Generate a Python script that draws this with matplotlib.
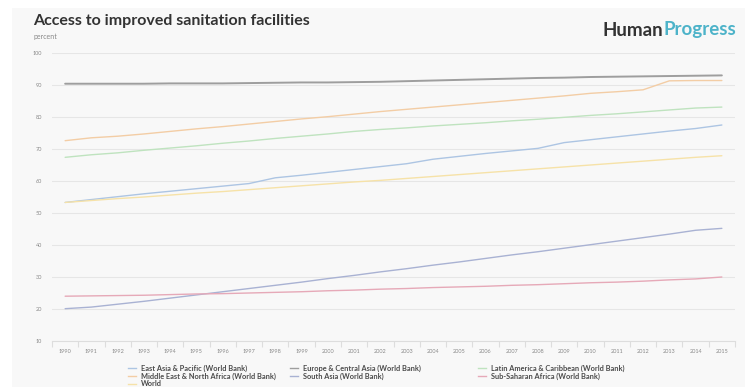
import matplotlib
matplotlib.use("Agg")
import matplotlib.pyplot as plt
from matplotlib.patches import Rectangle
from matplotlib.lines import Line2D

years = list(range(1990, 2016))

east_asia = [53.3, 54.2, 55.1, 56.0, 56.8, 57.6, 58.4, 59.2, 61.0, 61.8, 62.7, 63.6, 64.5,
             65.4, 66.8, 67.7, 68.6, 69.4, 70.2, 72.0, 72.9, 73.8, 74.7, 75.6, 76.4, 77.5]
europe = [90.4, 90.4, 90.4, 90.4, 90.5, 90.5, 90.5, 90.6, 90.7, 90.8, 90.8, 90.9, 91.0,
          91.2, 91.4, 91.6, 91.8, 92.0, 92.2, 92.3, 92.5, 92.6, 92.7, 92.8, 92.9, 93.0]
latin = [67.4, 68.2, 68.8, 69.6, 70.3, 71.0, 71.8, 72.5, 73.3, 74.0, 74.7, 75.5, 76.1,
         76.6, 77.2, 77.7, 78.2, 78.8, 79.3, 79.9, 80.5, 81.0, 81.6, 82.2, 82.8, 83.1]
mena = [72.6, 73.5, 74.0, 74.7, 75.5, 76.3, 77.0, 77.8, 78.6, 79.4, 80.1, 80.9, 81.7,
        82.4, 83.1, 83.8, 84.5, 85.2, 85.9, 86.6, 87.4, 87.9, 88.5, 91.3, 91.4, 91.4]
south_asia = [20.1, 20.6, 21.5, 22.4, 23.4, 24.4, 25.4, 26.4, 27.4, 28.4, 29.5, 30.5, 31.6,
              32.6, 33.7, 34.7, 35.8, 36.9, 37.9, 39.0, 40.1, 41.2, 42.3, 43.4, 44.6, 45.2]
ssa = [24.0, 24.1, 24.2, 24.3, 24.5, 24.7, 24.8, 25.0, 25.2, 25.4, 25.7, 25.9, 26.2,
       26.4, 26.7, 26.9, 27.1, 27.4, 27.6, 27.9, 28.2, 28.4, 28.7, 29.1, 29.4, 30.0]
world = [53.3, 53.9, 54.5, 55.0, 55.6, 56.2, 56.7, 57.3, 57.9, 58.5, 59.1, 59.7, 60.2,
         60.8, 61.4, 62.0, 62.6, 63.2, 63.8, 64.4, 65.0, 65.6, 66.2, 66.8, 67.4, 67.9]

names = ["East Asia & Pacific (World Bank)", "Europe & Central Asia (World Bank)",
         "Latin America & Caribbean (World Bank)", "Middle East & North Africa (World Bank)",
         "South Asia (World Bank)", "Sub-Saharan Africa (World Bank)", "World"]
series = [east_asia, europe, latin, mena, south_asia, ssa, world]
colors = ["#adc5e3", "#9e9e9e", "#bfe3bf", "#f3cda5", "#a9b2d3", "#e6a9b8", "#f6e2a8"]
widths = [1.0, 1.4, 1.0, 1.0, 1.0, 1.0, 1.0]

yticks = list(range(10, 101, 10))

W, H = 745, 387
fig = plt.figure(figsize=(W / 100, H / 100), dpi=100, facecolor="white")
fig.patches.append(Rectangle((12 / W, 0), 1, 1 - 8 / H, transform=fig.transFigure,
                             facecolor="#f8f8f8", edgecolor="none", zorder=-10))

ax = fig.add_axes([52 / W, 1 - 341 / H, (735 - 52) / W, (341 - 53) / H])
ax.set_facecolor("none")
for s, c, lw in zip(series, colors, widths):
    ax.plot(years, s, color=c, lw=lw, solid_capstyle="round")

ax.set_xlim(1989.5, 2015.5)
ax.set_ylim(10, 100)
ax.set_yticks(yticks)
ax.set_yticklabels([str(v) for v in yticks])
ax.set_xticks(years)
ax.set_xticklabels([str(y) for y in years])
ax.set_xticks([y - 0.5 for y in years] + [2015.5], minor=True)
ax.grid(axis="y", color="#e6e6e6", lw=0.8)
ax.set_axisbelow(True)
for sp in ["top", "right", "left"]:
    ax.spines[sp].set_visible(False)
ax.spines["bottom"].set_color("#dddddd")
ax.spines["bottom"].set_linewidth(0.8)
ax.tick_params(axis="y", length=0, pad=7, labelsize=4, labelcolor="#888888")
ax.tick_params(axis="x", which="major", length=0, pad=6, labelsize=4, labelcolor="#888888")
ax.tick_params(axis="x", which="minor", length=4, color="#dddddd", width=0.8)
for lab in ax.get_xticklabels() + ax.get_yticklabels():
    lab.set_fontfamily("Lato")

fig.text(33 / W, 1 - 21 / H, "Access to improved sanitation facilities", fontsize=11.5,
         fontweight="bold", color="#333333", family="Lato", va="center", ha="left")
fig.text(33 / W, 1 - 37 / H, "percent", fontsize=5, color="#888888", family="Lato",
         va="center", ha="left")

t1 = fig.text(603 / W, 1 - 30 / H, "Human", fontsize=13.5, fontweight="bold", color="#333333",
              family="Lato", va="center", ha="left")
t2 = fig.text(0, 1 - 30 / H, "Progress", fontsize=13.5, fontweight="bold", color="#4db3c9",
              family="Lato", va="center", ha="left")
fig.canvas.draw()
bb = t1.get_window_extent()
t2.set_position((bb.x1 / W, 1 - 30 / H))

# legend, row-major layout in three columns
cols_x = [128, 290, 478]
rows_y = [368, 376, 384]
for i, (n, c) in enumerate(zip(names, colors)):
    r, col = divmod(i, 3)
    x0 = cols_x[col]
    y0 = rows_y[r]
    fig.lines.append(Line2D([x0 / W, (x0 + 8) / W], [1 - y0 / H, 1 - y0 / H],
                            transform=fig.transFigure, color=c, lw=1.0))
    fig.text((x0 + 13) / W, 1 - y0 / H, n, fontsize=5.3, fontweight="bold", color="#4a4a4a",
             family="Lato", va="center", ha="left")

fig.savefig("out.png", dpi=100, facecolor=fig.get_facecolor())
